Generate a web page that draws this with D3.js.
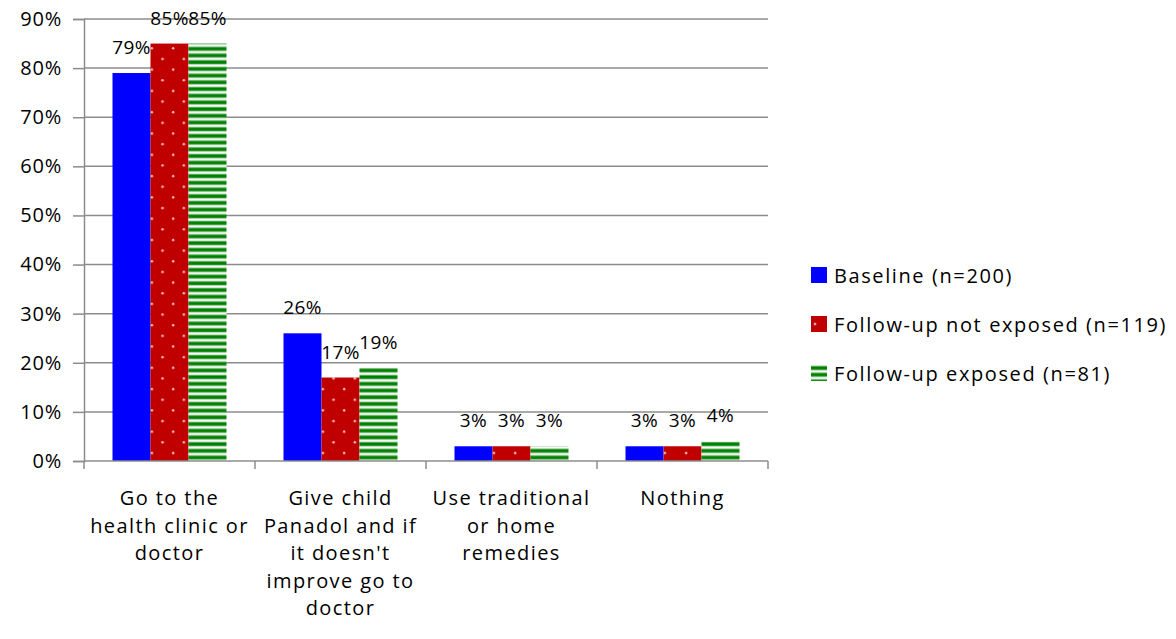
<!DOCTYPE html>
<html>
<head>
<meta charset="utf-8">
<script src="https://cdn.jsdelivr.net/npm/d3@7"></script>
<style>
  html, body { margin: 0; padding: 0; background: #fff; }
  svg { display: block; font-family: "Open Sans", Lato, sans-serif; }
</style>
</head>
<body>
<svg id="chart" width="1176" height="639"></svg>
<script>
// Responses per action, by survey group (percent)
const categories = [
  ["Go to the", "health clinic or", "doctor"],
  ["Give child", "Panadol and if", "it doesn't", "improve go to", "doctor"],
  ["Use traditional", "or home", "remedies"],
  ["Nothing"]
];
const seriesNames = ["Baseline (n=200)", "Follow-up not exposed (n=119)", "Follow-up exposed (n=81)"];
const baseline = [79, 26, 3, 3];
const followNotExposed = [85, 17, 3, 3];
const followExposed = [85, 19, 3, 4];
const yTicks = [0, 10, 20, 30, 40, 50, 60, 70, 80, 90];

const series = [baseline, followNotExposed, followExposed];

const FONT = 20;
const svg = d3.select("#chart");
const margin = { left: 84, right: 408, top: 19, bottom: 178 };
const W = 1176, H = 639;
const plotW = W - margin.left - margin.right;
const plotH = H - margin.top - margin.bottom;

// fills: solid blue, red with white dots, green horizontal stripes
const defs = svg.append("defs");
const dots = defs.append("pattern")
  .attr("id", "dots").attr("patternUnits", "userSpaceOnUse")
  .attr("width", 21.3).attr("height", 21.3);
dots.append("rect").attr("width", 21.3).attr("height", 21.3).attr("fill", "#C00000");
dots.append("circle").attr("cx", 4).attr("cy", 8).attr("r", 1.2).attr("fill", "#f4c8c8");
dots.append("circle").attr("cx", 14.65).attr("cy", 18.65).attr("r", 1.2).attr("fill", "#f4c8c8");

const stripes = defs.append("pattern")
  .attr("id", "stripes").attr("patternUnits", "userSpaceOnUse")
  .attr("width", 10).attr("height", 6.7);
stripes.append("rect").attr("width", 10).attr("height", 6.7).attr("fill", "#ffffff");
stripes.append("rect").attr("y", 0.6).attr("width", 10).attr("height", 0.7).attr("fill", "#8cc48c");
stripes.append("rect").attr("y", 1.3).attr("width", 10).attr("height", 3.4).attr("fill", "#008000");
stripes.append("rect").attr("y", 4.7).attr("width", 10).attr("height", 0.7).attr("fill", "#8cc48c");

const fills = ["#0000FF", "url(#dots)", "url(#stripes)"];

const g = svg.append("g").attr("transform", `translate(${margin.left},${margin.top})`);

const x0 = d3.scaleBand().domain(d3.range(categories.length)).range([0, plotW]).paddingInner(0).paddingOuter(0);
const x1 = d3.scaleBand().domain(d3.range(series.length)).range([0, x0.bandwidth()]).paddingInner(0).paddingOuter(0.75);
const y = d3.scaleLinear().domain([0, 90]).range([plotH, 0]);

// gridlines
g.append("g").selectAll("line").data(yTicks.slice(1)).join("line")
  .attr("x1", 0).attr("x2", plotW)
  .attr("y1", d => y(d)).attr("y2", d => y(d))
  .attr("stroke", "#8c8c8c").attr("stroke-width", 1.5);

// y axis
const yAxis = d3.axisLeft(y).tickValues(yTicks).tickFormat(d => d + "%").tickSize(11).tickPadding(11);
const ya = g.append("g").call(yAxis);
ya.select(".domain").attr("stroke", "#8c8c8c").attr("stroke-width", 1.5);
ya.selectAll(".tick line").attr("stroke", "#8c8c8c").attr("stroke-width", 1.5);
ya.selectAll("text").attr("font-size", FONT).attr("fill", "#000")
  .attr("font-family", "'Open Sans', sans-serif").attr("letter-spacing", 0.8);

// bars
const groups = g.append("g").selectAll("g").data(categories).join("g")
  .attr("transform", (d, i) => `translate(${x0(i)},0)`);
series.forEach((vals, s) => {
  groups.append("rect")
    .attr("x", x1(s)).attr("width", x1.bandwidth())
    .attr("y", (d, i) => y(vals[i]))
    .attr("height", (d, i) => plotH - y(vals[i]))
    .attr("fill", fills[s]);
  groups.append("text")
    .attr("x", x1(s) + x1.bandwidth() / 2)
    .attr("y", (d, i) => y(vals[i]) - 19)
    .attr("text-anchor", "middle").attr("font-size", FONT - 1).attr("fill", "#000")
    .attr("letter-spacing", 0.4)
    .text((d, i) => vals[i] + "%");
});

// x axis
const xa = g.append("g").attr("transform", `translate(0,${plotH})`);
xa.append("line").attr("x1", 0).attr("x2", plotW).attr("stroke", "#8c8c8c").attr("stroke-width", 1.5);
xa.selectAll("line.tk").data(d3.range(categories.length + 1)).join("line").attr("class", "tk")
  .attr("x1", i => i * x0.bandwidth()).attr("x2", i => i * x0.bandwidth())
  .attr("y1", 0).attr("y2", 8).attr("stroke", "#8c8c8c").attr("stroke-width", 1.5);
xa.selectAll("text.cat").data(categories).join("text").attr("class", "cat")
  .attr("text-anchor", "middle").attr("font-size", FONT).attr("fill", "#000")
  .attr("letter-spacing", 1.4)
  .attr("transform", (d, i) => `translate(${x0(i) + x0.bandwidth() / 2},44)`)
  .selectAll("tspan").data(d => d).join("tspan")
  .attr("x", 0).attr("dy", (d, j) => j === 0 ? 0 : 27.5).text(d => d);

// legend
const lg = svg.append("g").attr("transform", "translate(811,267)");
const items = lg.selectAll("g").data(seriesNames).join("g")
  .attr("transform", (d, i) => `translate(0,${i * 49})`);
items.append("rect").attr("width", 16).attr("height", 16).attr("fill", (d, i) => fills[i]);
items.append("text").attr("x", 23).attr("y", 16).attr("font-size", FONT).attr("fill", "#000")
  .attr("letter-spacing", 1.6).text(d => d);
</script>
</body>
</html>
